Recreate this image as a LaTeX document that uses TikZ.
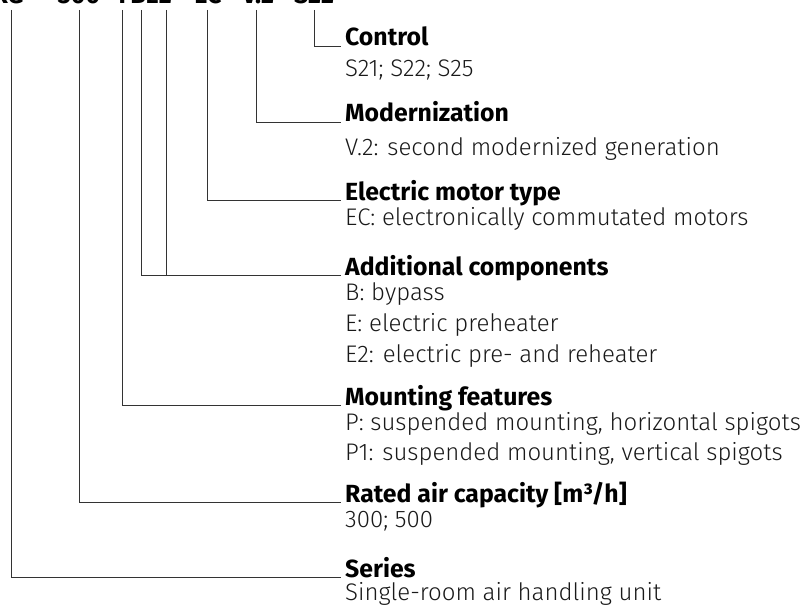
\documentclass[tikz,border=0pt]{standalone}
\usepackage{fontspec}
\setmainfont{Fira Sans Light}[BoldFont=Fira Sans Bold]
\begin{document}
\begin{tikzpicture}[x=1pt,y=-1pt,
  lead/.style={draw=black!80, line width=0.8pt},
  head/.style={anchor=base west, inner sep=0pt, font=\fontsize{24.8}{28}\selectfont\bfseries},
  sub/.style={anchor=base west, inner sep=0pt, font=\fontsize{24}{28}\selectfont, text=black!90},
  code/.style={anchor=base, inner sep=0pt, font=\fontsize{25}{28}\selectfont\bfseries}]
\useasboundingbox (0,0) rectangle (803,607);
\begin{scope}
\clip (0,0) rectangle (803,607);
% code parts (clipped at top, as in the reference)
\node[code, anchor=base east] (kname) at (24,4) {WRG};
\node[code] (k300) at (79,4) {300};
\node[code] (kP) at (126,4) {P};
\node[code] (kBE) at (151,4) {BE2};
\node[code] (kEC) at (208,4) {EC};
\node[code] (kV) at (258,4) {V.2};
\node[code] (kS) at (314,4) {S22};
\end{scope}
% headings and descriptions
\node[head] (hCtl) at (345,46) {Control};
\node[sub] (sCtl) at (345,77) {S21; S22; S25};
\node[head] (hMod) at (345,122) {Modernization};
\node[sub] (sMod) at (345,155) {V.2: second modernized generation};
\node[head] (hMot) at (345,200) {Electric motor type};
\node[sub] (sMot) at (345,225) {EC: electronically commutated motors};
\node[head] (hAdd) at (345,275) {Additional components};
\node[sub] (sAdd1) at (345,300) {B: bypass};
\node[sub] (sAdd2) at (345,331) {E: electric preheater};
\node[sub] (sAdd3) at (345,362) {E2: electric pre- and reheater};
\node[head] (hMnt) at (345,405) {Mounting features};
\node[sub] (sMnt1) at (345,430) {P: suspended mounting, horizontal spigots};
\node[sub] (sMnt2) at (345,460) {P1: suspended mounting, vertical spigots};
\node[head] (hCap) at (345,502) {Rated air capacity [m³/h]};
\node[sub] (sCap) at (345,527) {300; 500};
\node[head] (hSer) at (345,577) {Series};
\node[sub] (sSer) at (345,600) {Single-room air handling unit};
% line tops
\coordinate (tSer) at (11,10);
\coordinate (tCap) at (79,10);
\coordinate (tMnt) at (122,10);
\coordinate (tAddB) at (141,10);
\coordinate (tAddE) at (166,10);
\coordinate (tMot) at (207,10);
\coordinate (tMod) at (256,10);
\coordinate (tCtl) at (314,10);
% connectors
\draw[lead] (tCtl) |- ([xshift=-4pt]hCtl.base west);
\draw[lead] (tMod) |- ([xshift=-4pt]hMod.base west);
\draw[lead] (tMot) |- ([xshift=-4pt]hMot.base west);
\draw[lead] (tAddB) |- ([xshift=-4pt]hAdd.base west);
\draw[lead] (tAddE) -- (tAddE |- hAdd.base);
\draw[lead] (tMnt) |- ([xshift=-4pt]hMnt.base west);
\draw[lead] (tCap) |- ([xshift=-4pt]hCap.base west);
\draw[lead] (tSer) |- ([xshift=-4pt]hSer.base west);
\end{tikzpicture}
\end{document}
